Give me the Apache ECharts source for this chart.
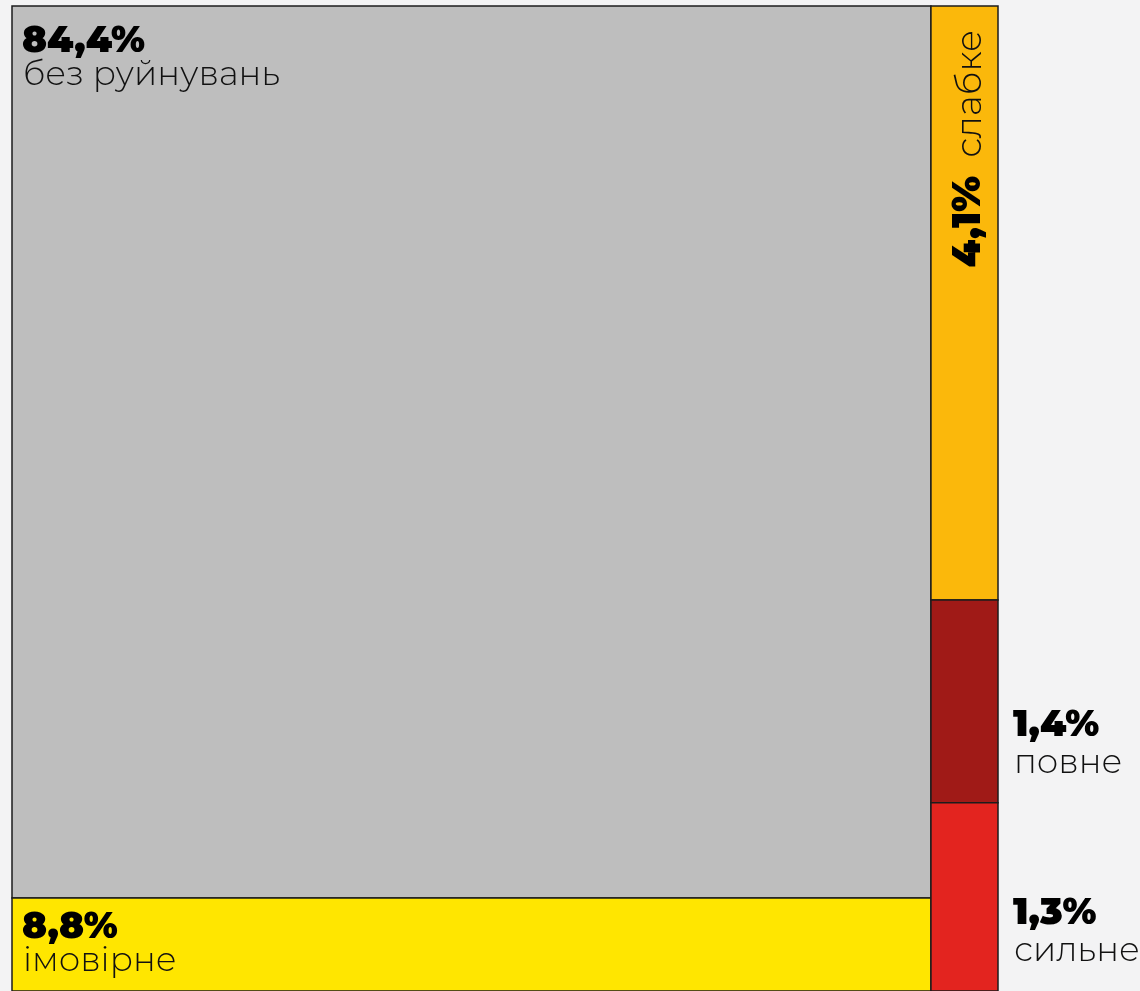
<!DOCTYPE html>
<html>
<head>
<meta charset="utf-8">
<script src="https://cdn.jsdelivr.net/npm/echarts@6/dist/echarts.min.js"></script>
<style>
  html, body { margin: 0; padding: 0; background: #f3f3f4; }
  #chart { width: 1140px; height: 991px; }
</style>
</head>
<body>
<div id="chart"></div>
<script>
// shares of buildings by damage level, %
const names = ["без руйнувань", "імовірне", "слабке", "повне", "сильне"];
const shares = [84.4, 8.8, 4.1, 1.4, 1.3];
const columns = [0, 0, 1, 1, 1];
const colors = ["#bebebe", "#ffe600", "#fbb80b", "#a01a17", "#e3241f"];

const FONT = "Montserrat, Inter, Lato, sans-serif";

function fmt(v) {
  return v.toFixed(1).replace(".", ",") + "%";
}

// slice-and-dice: columns side by side, cells stacked inside each column
const colSum = {};
columns.forEach((c, i) => { colSum[c] = (colSum[c] || 0) + shares[i]; });
const total = shares.reduce((a, b) => a + b, 0);
const colStart = {};
let acc = 0;
Object.keys(colSum).forEach(c => { colStart[c] = acc; acc += colSum[c]; });

const cells = [];
const yAcc = {};
shares.forEach((v, i) => {
  const c = columns[i];
  const y0 = yAcc[c] || 0;
  const y1 = y0 + v / colSum[c];
  yAcc[c] = y1;
  cells.push([colStart[c], colStart[c] + colSum[c], y0, y1, i]);
});

const boldStyle = { fill: "#000", fontFamily: FONT, fontWeight: 900, fontSize: 37, verticalAlign: "top" };
const lightStyle = { fill: "#111", fontFamily: FONT, fontWeight: 300, fontSize: 34, verticalAlign: "top" };

function renderItem(params, api) {
  const i = api.value(4);
  const p0 = api.coord([api.value(0), api.value(2)]);
  const p1 = api.coord([api.value(1), api.value(3)]);
  const x = p0[0], y = p0[1], w = p1[0] - p0[0], h = p1[1] - p0[1];
  const children = [{
    type: "rect",
    shape: { x: x, y: y, width: w, height: h },
    style: { fill: colors[i], stroke: "#1c1c1c", lineWidth: 1.5 }
  }];
  if (w > 150) {
    // label inside, top-left corner
    const pad = h > 300 ? 17 : 11;
    children.push({
      type: "text", x: x + 10, y: y + pad,
      style: Object.assign({ text: fmt(shares[i]) }, boldStyle)
    });
    children.push({
      type: "text", x: x + 11, y: y + pad + 35,
      style: Object.assign({ text: names[i] }, lightStyle)
    });
  } else if (h > 300) {
    // narrow tall cell: rotated label
    children.push({
      type: "text", x: x + w / 2 + 4, y: y + 24, rotation: Math.PI / 2,
      style: {
        text: "{b|" + fmt(shares[i]) + "}{s| }{l|" + names[i] + "}",
        align: "right", verticalAlign: "middle",
        rich: {
          b: { fill: "#000", fontFamily: FONT, fontWeight: 900, fontSize: 39, verticalAlign: "bottom" },
          s: { fontSize: 20, width: 18 },
          l: { fill: "#111", fontFamily: FONT, fontWeight: 300, fontSize: 36, verticalAlign: "bottom" }
        }
      }
    });
  } else {
    // small cell: label to the right
    const bottom = y + h;
    children.push({
      type: "text", x: x + w + 15, y: bottom - 96,
      style: Object.assign({ text: fmt(shares[i]) }, boldStyle)
    });
    children.push({
      type: "text", x: x + w + 16, y: bottom - 57,
      style: Object.assign({ text: names[i] }, lightStyle)
    });
  }
  return { type: "group", children: children };
}

const chart = echarts.init(document.getElementById("chart"));
chart.setOption({
  backgroundColor: "#f3f3f4",
  animation: false,
  grid: { left: 12, right: 142, top: 6, bottom: -4 },
  xAxis: { type: "value", min: 0, max: total, show: false },
  yAxis: { type: "value", min: 0, max: 1, inverse: true, show: false },
  series: [{
    type: "custom",
    renderItem: renderItem,
    clip: false,
    silent: true,
    encode: { x: [0, 1], y: [2, 3] },
    data: cells
  }]
});
</script>
</body>
</html>
